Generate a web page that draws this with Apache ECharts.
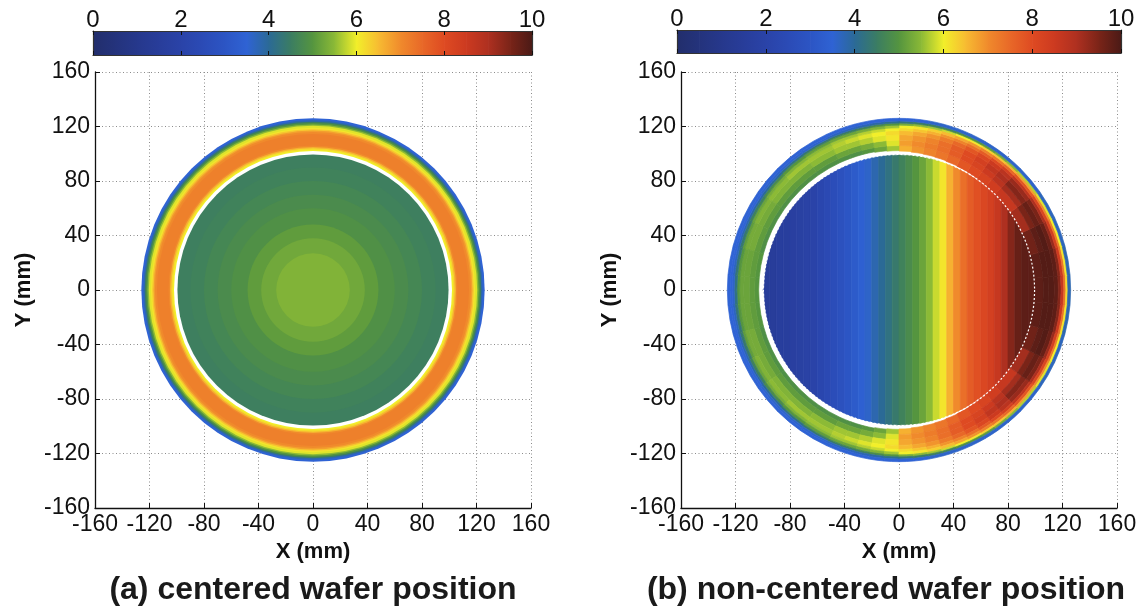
<!DOCTYPE html>
<html><head><meta charset="utf-8">
<script src="https://cdn.jsdelivr.net/npm/echarts@6/dist/echarts.min.js"></script>
<style>html,body{margin:0;padding:0;background:#fff}#c{width:1146px;height:615px}</style>
</head><body><div id="c"></div>
<script>
// ================= DATA =================
const axisMin = -160, axisMax = 160, axisStep = 40;
const colorbarMin = 0, colorbarMax = 10, colorbarStep = 2;

// colormap sampled from the colour bar, every 0.5 units
const colormapValues = [0,0.5,1,1.5,2,2.5,3,3.5,4,4.5,5,5.5,6,6.5,7,7.5,8,8.5,9,9.5,10];
const colormapColors = ['#222e6c','#24337c','#26388c','#283d9a','#2a43a8','#2b4bb6','#2c55c4','#2f63d4',
  '#2b6a96','#3b7d62','#55953f','#8cba36','#f2ef2a','#f7bb32','#f08a2c','#e86828','#de4a22','#cc3a20',
  '#ae3020','#7a2418','#4a1a16'];

// (a) centered wafer: concentric bands -> outer radius (mm) and value
const waferCenter = [0, 0];
const centeredRingRadius = [126,124.5,123.5,122.5,121.5,120.5,119,118,117,116,114.5,106,105,104,103];
const centeredRingValue  = [3.5,3.8,4.5,5.0,5.5,5.9,6.1,6.4,6.8,7.0,7.15,7.0,6.6,6.2,6.0];
const centeredGapRadius = 102;
const centeredWaferRadius = [99.5,90,80,70,60,48,38,27];
const centeredWaferValue  = [4.55,4.6,4.7,4.8,4.9,5.1,5.25,5.4];

// (b) non-centered wafer: vertical strips inside the wafer
const waferRadius = 99;
const stripEdgesX = [-100,-95,-90,-85,-80,-75,-70,-65,-60,-55,-50,-45,-40,-35,-30,-25,-20,-15,-10,-5,0,
  5,10,15,20,25,30,35,40,45,50,55,60,65,70,75,80,85,90,95,100];
const stripValue = [1.5,1.5,1.6,1.6,1.7,1.8,1.9,2.0,2.2,2.4, 2.6,2.8,3.0,3.2,3.4,3.6,3.8,4.0,4.2,4.4,
  4.6,4.8,5.0,5.2,5.5,5.8,6.1,6.6,7.0,7.4, 7.7,7.9,8.1,8.3,8.6,9.0,9.4,9.7,9.8,9.8];
const dashedBoundaryRadius = 99.5;
const ringGapRadius = 104;

// (b) edge ring: sector angle edges (deg, counter-clockwise from +X), inner radius per sector,
//     band outer radii, and the value of each band in each sector
const ringAngleEdges = [-45,-35,-25,-15,-5,5,15,25,35,45,
  50,55,60,65,70,75,80,85,90,95,100,105,110,115,
  125,135,145,155,165,175,185,195,205,215,225,235,245,
  250,255,260,265,270,275,280,285,290,295,300,305,310,315];
const ringInnerRadius = [99,99,99,99,99,99,99,99,99,
  99.3,99.6,100,100.3,100.6,101,101.3,101.6,102,102.3,102.6,103,103,103,
  103,103,103,103,103,103,103,103,103,103,103,103,103,
  103,103,103,102.6,102.3,102,101.6,101.3,101,100.6,100.3,100,99.6,99.3];
const ringBandOuter = [106,110,114,117,119,121,122.5,124,126];
const ringValue = [
  [8.6,9.1,9.4,9.2,8.7,7.8,6.8,5.7,3.6], // -40
  [9.1,9.5,9.7,9.5,9.0,8.1,7.0,5.9,3.7], // -30
  [9.6,9.8,9.9,9.7,9.2,8.3,7.2,6.0,3.7], // -20
  [9.8,9.9,9.9,9.8,9.4,8.5,7.3,6.1,3.8], // -10
  [9.8,9.9,9.9,9.8,9.4,8.6,7.4,6.2,3.8], // 0
  [9.8,9.9,9.9,9.8,9.4,8.5,7.3,6.1,3.8], // 10
  [9.6,9.8,9.9,9.7,9.2,8.3,7.2,6.0,3.7], // 20
  [9.1,9.5,9.7,9.5,9.0,8.1,7.0,5.9,3.7], // 30
  [8.6,9.1,9.4,9.2,8.7,7.8,6.8,5.7,3.6], // 40
  [8.4,8.8,9.0,8.8,8.3,7.5,6.6,5.5,3.6], // 47.5
  [8.2,8.5,8.7,8.5,8.0,7.3,6.4,5.3,3.6], // 52.5
  [8.0,8.2,8.3,8.1,7.7,7.1,6.3,5.1,3.6], // 57.5
  [7.8,8.0,8.0,7.8,7.4,6.9,6.1,5.0,3.6], // 62.5
  [7.5,7.7,7.7,7.5,7.1,6.7,6.0,4.9,3.6], // 67.5
  [7.3,7.4,7.4,7.2,6.9,6.5,5.8,4.7,3.6], // 72.5
  [7.1,7.2,7.1,6.9,6.6,6.3,5.6,4.6,3.6], // 77.5
  [6.9,7.0,6.9,6.7,6.4,6.1,5.5,4.5,3.5], // 82.5
  [6.6,6.8,6.7,6.5,6.2,6.0,5.3,4.3,3.5], // 87.5
  [5.6,5.9,6.1,6.2,6.0,5.6,5.0,4.1,3.5], // 92.5
  [5.2,5.5,5.9,6.0,5.8,5.4,4.8,3.9,3.5], // 97.5
  [5.0,5.3,5.7,5.9,5.7,5.3,4.6,3.8,3.5], // 102.5
  [4.9,5.2,5.6,5.8,5.6,5.2,4.5,3.7,3.5], // 107.5
  [4.9,5.2,5.6,5.7,5.6,5.2,4.5,3.7,3.5], // 112.5
  [4.9,5.1,5.5,5.6,5.5,5.1,4.4,3.6,3.5], // 120
  [4.9,5.1,5.4,5.6,5.4,5.0,4.2,3.6,3.5], // 130
  [4.9,5.1,5.4,5.5,5.3,4.8,4.0,3.6,3.5], // 140
  [4.9,5.1,5.3,5.4,5.2,4.6,3.9,3.5,3.5], // 150
  [4.9,5.1,5.3,5.3,5.1,4.4,3.8,3.5,3.5], // 160
  [5.0,5.1,5.2,5.2,5.0,4.3,3.7,3.5,3.5], // 170
  [5.0,5.1,5.2,5.2,5.0,4.2,3.6,3.5,3.5], // 180
  [5.0,5.1,5.2,5.2,5.0,4.3,3.7,3.5,3.5], // 190
  [4.9,5.1,5.3,5.3,5.1,4.4,3.8,3.5,3.5], // 200
  [4.9,5.1,5.3,5.4,5.2,4.6,3.9,3.5,3.5], // 210
  [4.9,5.1,5.4,5.5,5.3,4.8,4.0,3.6,3.5], // 220
  [4.9,5.1,5.4,5.6,5.4,5.0,4.2,3.6,3.5], // 230
  [4.9,5.1,5.5,5.6,5.5,5.1,4.4,3.6,3.5], // 240
  [4.9,5.2,5.6,5.7,5.6,5.2,4.5,3.7,3.5], // 247.5
  [4.9,5.2,5.6,5.8,5.6,5.2,4.5,3.7,3.5], // 252.5
  [5.0,5.3,5.7,5.9,5.7,5.3,4.6,3.8,3.5], // 257.5
  [5.2,5.5,5.9,6.0,5.8,5.4,4.8,3.9,3.5], // 262.5
  [5.6,5.9,6.1,6.2,6.0,5.6,5.0,4.1,3.5], // 267.5
  [6.6,6.8,6.7,6.5,6.2,6.0,5.3,4.3,3.5], // 272.5
  [6.9,7.0,6.9,6.7,6.4,6.1,5.5,4.5,3.5], // 277.5
  [7.1,7.2,7.1,6.9,6.6,6.3,5.6,4.6,3.6], // 282.5
  [7.3,7.4,7.4,7.2,6.9,6.5,5.8,4.7,3.6], // 287.5
  [7.5,7.7,7.7,7.5,7.1,6.7,6.0,4.9,3.6], // 292.5
  [7.8,8.0,8.0,7.8,7.4,6.9,6.1,5.0,3.6], // 297.5
  [8.0,8.2,8.3,8.1,7.7,7.1,6.3,5.1,3.6], // 302.5
  [8.2,8.5,8.7,8.5,8.0,7.3,6.4,5.3,3.6], // 307.5
  [8.4,8.8,9.0,8.8,8.3,7.5,6.6,5.5,3.6]  // 312.5
];

const titles = ['(a) centered wafer position', '(b) non-centered wafer position'];
const xName = 'X (mm)', yName = 'Y (mm)';

// ================= BUILD =================
const FONT = 'Liberation Sans';
const chart = echarts.init(document.getElementById('c'), null, {renderer: 'canvas'});

// disc data: [cx, cy, r, value]
const centeredRingData = centeredRingRadius.map((r, i) => [waferCenter[0], waferCenter[1], r, centeredRingValue[i]]);
const centeredWaferData = centeredWaferRadius.map((r, i) => [waferCenter[0], waferCenter[1], r, centeredWaferValue[i]]);
// ring sectors: [angleFrom, angleTo, r0, r1, value]
const ringData = [];
ringValue.forEach((row, i) => {
  row.forEach((v, j) => {
    const r0 = j === 0 ? ringInnerRadius[i] : ringBandOuter[j - 1];
    ringData.push([ringAngleEdges[i], ringAngleEdges[i + 1], r0, ringBandOuter[j], v]);
  });
});
// strips: [x0, x1, R, value]
const stripData = stripValue.map((v, i) => [stripEdgesX[i], stripEdgesX[i + 1], waferRadius, v]);
// colour bar segments
const colorbarData = colormapValues.slice(0, -1).map((v, i) => [v, colormapValues[i + 1], i]);

function renderDisc(params, api) {
  const c = api.coord([api.value(0), api.value(1)]);
  const r = api.size([api.value(2), 0])[0];
  const col = api.visual('color');
  return {type: 'circle', shape: {cx: c[0], cy: c[1], r: r}, style: {fill: col}};
}
function renderWhiteDisc(params, api) {
  const c = api.coord([api.value(0), api.value(1)]);
  const r = api.size([api.value(2), 0])[0];
  return {type: 'circle', shape: {cx: c[0], cy: c[1], r: r}, style: {fill: '#ffffff'}};
}
function renderDashed(params, api) {
  const c = api.coord([api.value(0), api.value(1)]);
  const r = api.size([api.value(2), 0])[0];
  return {type: 'circle', shape: {cx: c[0], cy: c[1], r: r},
    style: {fill: 'none', stroke: '#ffffff', lineWidth: 1.2, lineDash: [2, 2]}};
}
function renderSector(params, api) {
  const c = api.coord(waferCenter);
  const k = api.size([1, 0])[0];
  const a0 = api.value(0), a1 = api.value(1);
  const col = api.visual('color');
  return {type: 'sector', shape: {cx: c[0], cy: c[1], r0: api.value(2) * k, r: api.value(3) * k,
      startAngle: -a1 * Math.PI / 180, endAngle: -a0 * Math.PI / 180, clockwise: true},
    style: {fill: col, stroke: col, lineWidth: 0.7}};
}
function renderStrip(params, api) {
  const x0 = api.value(0), x1 = api.value(1), R = api.value(2);
  const N = 6, pts = [];
  for (let i = 0; i <= N; i++) {
    const x = x0 + (x1 - x0) * i / N;
    const y = Math.sqrt(Math.max(0, R * R - x * x));
    pts.push(api.coord([x, y]));
  }
  for (let i = N; i >= 0; i--) {
    const x = x0 + (x1 - x0) * i / N;
    const y = Math.sqrt(Math.max(0, R * R - x * x));
    pts.push(api.coord([x, -y]));
  }
  const col = api.visual('color');
  return {type: 'polygon', shape: {points: pts}, style: {fill: col, stroke: col, lineWidth: 0.7}};
}
function renderColorbar(params, api) {
  const i = api.value(2);
  const p0 = api.coord([api.value(0), 1]);
  const p1 = api.coord([api.value(1), 0]);
  return {type: 'rect', shape: {x: p0[0], y: p0[1], width: p1[0] - p0[0] + 0.7, height: p1[1] - p0[1]},
    style: {fill: new echarts.graphic.LinearGradient(0, 0, 1, 0, [
      {offset: 0, color: colormapColors[i]}, {offset: 1, color: colormapColors[i + 1]}])}};
}

const plotGrids = [
  {left: 95, top: 72, width: 436, height: 436},
  {left: 681, top: 72, width: 436, height: 436}
];
const barGrids = [
  {left: 93, top: 31, width: 439, height: 24},
  {left: 677, top: 30, width: 444, height: 23}
];

const tickLabel = {fontFamily: FONT, fontSize: 23, color: '#111'};
function plotX(g) {
  return {type: 'value', gridIndex: g, min: axisMin, max: axisMax, interval: axisStep, position: 'bottom',
    name: xName, nameLocation: 'middle', nameGap: 29,
    nameTextStyle: {fontFamily: FONT, fontSize: 22, fontWeight: 'bold', color: '#111'},
    axisLine: {onZero: false, lineStyle: {color: '#111', width: 1.3}},
    axisTick: {inside: true, length: 5, lineStyle: {color: '#111'}},
    axisLabel: Object.assign({margin: 5, showMinLabel: true, showMaxLabel: true}, tickLabel),
    splitLine: {show: true, lineStyle: {color: '#8c8c8c', width: 1, type: [1, 2.5]}}};
}
function plotY(g) {
  return {type: 'value', gridIndex: g, min: axisMin, max: axisMax, interval: axisStep, position: 'left',
    name: yName, nameLocation: 'middle', nameGap: 60,
    nameTextStyle: {fontFamily: FONT, fontSize: 22, fontWeight: 'bold', color: '#111'},
    axisLine: {onZero: false, lineStyle: {color: '#111', width: 1.3}},
    axisTick: {inside: true, length: 5, lineStyle: {color: '#111'}},
    axisLabel: Object.assign({margin: 5, showMinLabel: true, showMaxLabel: true}, tickLabel),
    splitLine: {show: true, lineStyle: {color: '#8c8c8c', width: 1, type: [1, 2.5]}}};
}
function barXTop(g) {
  return {type: 'value', gridIndex: g, min: colorbarMin, max: colorbarMax, interval: colorbarStep, position: 'top', z: 5,
    axisLine: {onZero: false, lineStyle: {color: '#333', width: 1.2}},
    axisTick: {inside: true, length: 4, lineStyle: {color: '#111'}},
    axisLabel: {margin: -1, showMinLabel: true, showMaxLabel: true, fontFamily: FONT, fontSize: 24, color: '#111'},
    splitLine: {show: false}};
}
function barXBottom(g) {
  return {type: 'value', gridIndex: g, min: colorbarMin, max: colorbarMax, interval: colorbarStep, position: 'bottom', z: 5,
    axisLine: {onZero: false, lineStyle: {color: '#333', width: 1.2}},
    axisTick: {inside: true, length: 4, lineStyle: {color: '#111'}},
    axisLabel: {show: false}, splitLine: {show: false}};
}
function barY(g, pos) {
  return {type: 'value', gridIndex: g, min: 0, max: 1, position: pos, z: 5,
    axisLine: {show: true, onZero: false, lineStyle: {color: '#333', width: 1.2}},
    axisTick: {show: false}, axisLabel: {show: false}, splitLine: {show: false}};
}

const option = {
  animation: false,
  backgroundColor: '#ffffff',
  textStyle: {fontFamily: FONT},
  grid: [plotGrids[0], plotGrids[1], barGrids[0], barGrids[1]],
  xAxis: [plotX(0), plotX(1), barXTop(2), barXBottom(2), barXTop(3), barXBottom(3)],
  yAxis: [plotY(0), plotY(1), barY(2, 'left'), barY(2, 'right'), barY(3, 'left'), barY(3, 'right')],
  visualMap: [
    {type: 'continuous', show: false, min: colorbarMin, max: colorbarMax, dimension: 3,
      seriesIndex: [0, 2, 5], inRange: {color: colormapColors}},
    {type: 'continuous', show: false, min: colorbarMin, max: colorbarMax, dimension: 4,
      seriesIndex: [4], inRange: {color: colormapColors}}
  ],
  series: [
    {type: 'custom', name: 'centered ring', xAxisIndex: 0, yAxisIndex: 0, z: 2, renderItem: renderDisc, data: centeredRingData, silent: true},
    {type: 'custom', name: 'centered gap', xAxisIndex: 0, yAxisIndex: 0, z: 3, renderItem: renderWhiteDisc,
      data: [[waferCenter[0], waferCenter[1], centeredGapRadius]], silent: true},
    {type: 'custom', name: 'centered wafer', xAxisIndex: 0, yAxisIndex: 0, z: 4, renderItem: renderDisc, data: centeredWaferData, silent: true},
    {type: 'custom', name: 'noncentered gap', xAxisIndex: 1, yAxisIndex: 1, z: 2, renderItem: renderWhiteDisc,
      data: [[waferCenter[0], waferCenter[1], ringGapRadius]], silent: true},
    {type: 'custom', name: 'noncentered ring', xAxisIndex: 1, yAxisIndex: 1, z: 3, renderItem: renderSector, data: ringData, silent: true},
    {type: 'custom', name: 'noncentered wafer', xAxisIndex: 1, yAxisIndex: 1, z: 4, renderItem: renderStrip, data: stripData, silent: true},
    {type: 'custom', name: 'wafer edge', xAxisIndex: 1, yAxisIndex: 1, z: 5, renderItem: renderDashed,
      data: [[waferCenter[0], waferCenter[1], dashedBoundaryRadius]], silent: true},
    {type: 'custom', name: 'colorbar a', xAxisIndex: 2, yAxisIndex: 2, z: 1, renderItem: renderColorbar, data: colorbarData, silent: true},
    {type: 'custom', name: 'colorbar b', xAxisIndex: 4, yAxisIndex: 4, z: 1, renderItem: renderColorbar, data: colorbarData, silent: true}
  ],
  graphic: [
    {type: 'text', x: 313, y: 590, style: {text: titles[0], font: 'bold 32px "Liberation Sans"', fill: '#1a1a1a',
      align: 'center', verticalAlign: 'middle', textAlign: 'center', textVerticalAlign: 'middle'}},
    {type: 'text', x: 886, y: 590, style: {text: titles[1], font: 'bold 32px "Liberation Sans"', fill: '#1a1a1a',
      align: 'center', verticalAlign: 'middle', textAlign: 'center', textVerticalAlign: 'middle'}}
  ]
};
chart.setOption(option);
</script>
</body></html>
